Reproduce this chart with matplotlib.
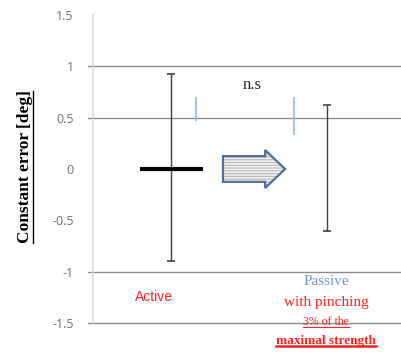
import matplotlib
matplotlib.use("Agg")
import matplotlib.pyplot as plt
from matplotlib.patches import Polygon
from matplotlib.lines import Line2D

# Data
conditions = ["Active", "Passive"]
positions = [1, 2]
means = [0.0, 0.01]
upper = [0.93, 0.62]
lower = [-0.90, -0.60]
blue_marks = [(1.16, 0.47, 0.70), (1.79, 0.33, 0.70)]
yticks = [1.5, 1, 0.5, 0, -0.5, -1, -1.5]
ytick_labels = ["1.5", "1", "0.5", "0", "-0.5", "-1", "-1.5"]
grid_vals = [1, 0.5, -1, -1.5]

W, H = 402, 353
fig = plt.figure(figsize=(W / 100, H / 100), dpi=100)
ax = fig.add_axes([93 / W, (H - 323) / H, (W - 93) / W, (323 - 15) / H])
ax.set_xlim(0.5, 2.48)
ax.set_ylim(-1.5, 1.5)

for s in ["top", "right", "bottom"]:
    ax.spines[s].set_visible(False)
ax.spines["left"].set_color("#d9d9d9")
ax.spines["left"].set_linewidth(1.2)
ax.set_xticks([])
ax.set_yticks(yticks)
ax.set_yticklabels(ytick_labels, fontsize=9, color="#707070", family="Open Sans")
ax.tick_params(axis="y", length=0, pad=14)

for g in grid_vals:
    ax.axhline(g, xmin=-5 / 309, xmax=1, color="#8c8c8c", lw=1.0, clip_on=False, zorder=1)

# error bars
for x, m, u, l in zip(positions, means, upper, lower):
    ax.errorbar([x], [m], yerr=[[m - l], [u - m]], fmt="none", ecolor="#404040",
                elinewidth=1.0, capsize=3, capthick=1.2, zorder=3)

# mean bar for active
ax.hlines(means[0], positions[0] - 0.2, positions[0] + 0.205, color="black", lw=3, zorder=4)

# blue marks
for x, y0, y1 in blue_marks:
    ax.vlines(x, y0, y1, color="#9dbbe0", lw=1.3, zorder=3)

# block arrow
x0, xh, xt = 1.333, 1.603, 1.731
sh, hh = 0.125, 0.185
pts = [[x0, -sh], [xh, -sh], [xh, -hh], [xt, 0], [xh, hh], [xh, sh], [x0, sh]]
plt.rcParams["hatch.linewidth"] = 0.8
fill = Polygon(pts, closed=True, facecolor="#f4f4f4", edgecolor="#b5b5b5", lw=0,
               hatch="------", zorder=3)
ax.add_patch(fill)
outline = Polygon(pts, closed=True, facecolor="none", edgecolor="#4a6fa0", lw=1.6, zorder=4)
ax.add_patch(outline)

ax.text(1.52, 0.82, "n.s", ha="center", va="center", fontsize=12,
        family="Liberation Serif", color="#222222")

ax.text(0.89, -1.25, "Active", ha="center", va="center", fontsize=10,
        family="Liberation Sans", color="#ff2020")
ax.text(1.995, -1.095, "Passive", ha="center", va="center", fontsize=11,
        family="Liberation Serif", color="#6f97c8")
ax.text(1.995, -1.30, "with pinching", ha="center", va="center", fontsize=11,
        family="Liberation Serif", color="#ff2020")
t3 = ax.text(1.995, -1.495, "3% of the", ha="center", va="center", fontsize=8.5,
             family="Liberation Serif", color="#ff2020", clip_on=False)
t4 = ax.text(1.995, -1.68, "maximal strength", ha="center", va="center", fontsize=9.5,
             family="Liberation Serif", color="#ff2020", fontweight="bold", clip_on=False)

ylab = fig.text(25 / W, 1 - 167 / H, "Constant error [deg]", rotation=90, ha="center",
                va="center", fontsize=12.5, family="Liberation Serif", fontweight="bold",
                color="black")

fig.canvas.draw()
r = fig.canvas.get_renderer()
inv = fig.transFigure.inverted()
bb = ylab.get_window_extent(r)
(x0f, y0f), (x1f, y1f) = inv.transform([[bb.x0, bb.y0], [bb.x1, bb.y1]])
fig.add_artist(Line2D([x1f + 0.3 / W, x1f + 0.3 / W], [y0f, y1f], transform=fig.transFigure,
                      color="black", lw=1.0))
for t, lw in [(t3, 0.8), (t4, 1.8)]:
    bb = t.get_window_extent(r)
    (a0, b0), (a1, b1) = inv.transform([[bb.x0, bb.y0], [bb.x1, bb.y1]])
    fig.add_artist(Line2D([a0, a1], [b0 + 1.5 / H, b0 + 1.5 / H], transform=fig.transFigure,
                          color="#ff2020", lw=lw))

fig.savefig("out.png", dpi=100)
